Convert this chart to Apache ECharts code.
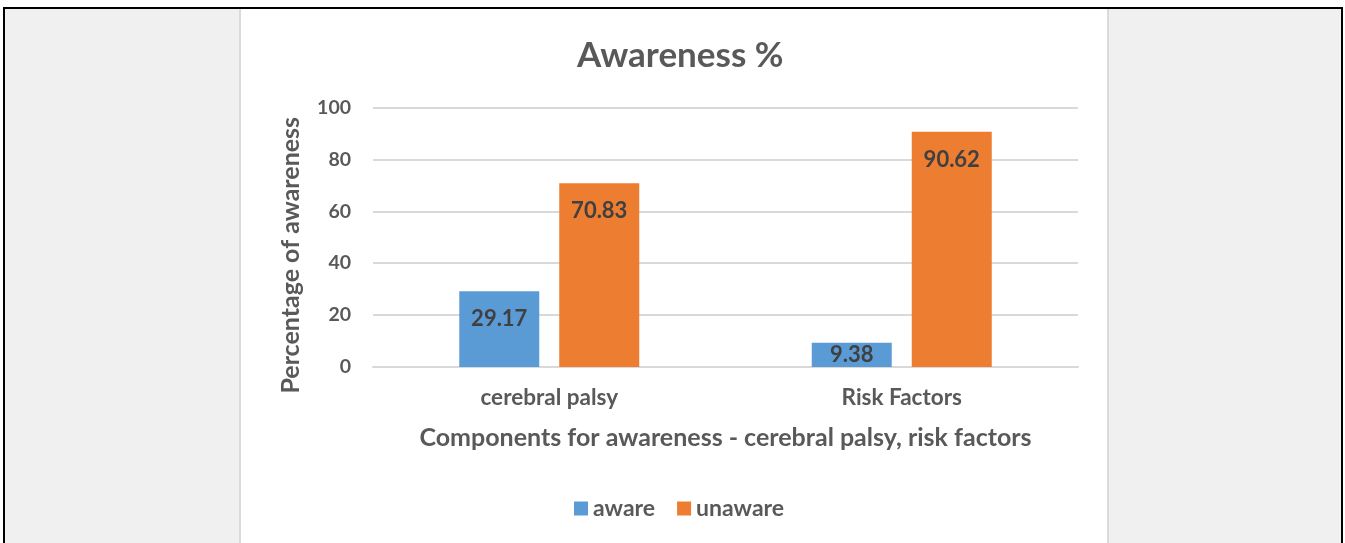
<!DOCTYPE html>
<html>
<head>
<meta charset="utf-8">
<script src="https://cdn.jsdelivr.net/npm/echarts@6/dist/echarts.min.js"></script>
<style>
html, body {
  margin: 0;
  padding: 0;
  width: 1345px;
  height: 543px;
  overflow: hidden;
  background: #ffffff;
}
.frame {
  position: absolute;
  left: 3px;
  top: 7px;
  width: 1336px;
  height: 540px;
  border: 2px solid #000;
  border-bottom: none;
  background: #f0f0f0;
}
.page {
  position: absolute;
  left: 239px;
  top: 9px;
  width: 866px;
  height: 540px;
  background: #fff;
  border-left: 2px solid #dadada;
  border-right: 2px solid #dadada;
}
#chart {
  position: absolute;
  left: 241px;
  top: 10px;
  width: 866px;
  height: 533px;
}
</style>
</head>
<body>
<div class="frame"></div>
<div class="page"></div>
<div id="chart"></div>
<script>
// 数据
const categories = ['cerebral palsy', 'Risk Factors']
const seriesNames = ['aware', 'unaware']
const awareValues = [29.17, 9.38]
const unawareValues = [70.83, 90.62]
const yTicks = [0, 20, 40, 60, 80, 100]

const font = 'Lato, Carlito, "Open Sans", sans-serif'
const textColor = '#595959'

let chart = echarts.init(document.getElementById('chart'))

let labelStyle = {
  show: true,
  position: 'insideTop',
  distance: 17,
  color: '#404040',
  fontFamily: font,
  fontWeight: 'bold',
  fontSize: 22,
  formatter: p => p.value.toFixed(2)
}

// 短柱子的标签往上挪一点，跟原图一样放得下
function toBarData(values) {
  return values.map(v => v < 15 ? { value: v, label: { distance: 1 } } : v)
}

let option = {
  animation: false,
  textStyle: { fontFamily: font },
  title: {
    text: 'Awareness %',
    left: 331,
    top: 23,
    textStyle: {
      color: textColor,
      fontFamily: font,
      fontWeight: 'bold',
      fontSize: 35
    }
  },
  legend: {
    data: seriesNames,
    bottom: 18,
    left: 328,
    itemWidth: 14,
    itemHeight: 14,
    itemGap: 22,
    icon: 'rect',
    textStyle: {
      color: textColor,
      fontFamily: font,
      fontWeight: 'bold',
      fontSize: 23
    }
  },
  grid: {
    left: 132,
    right: 29,
    top: 97.5,
    bottom: 176,
    containLabel: false
  },
  xAxis: {
    type: 'category',
    data: categories,
    name: 'Components for awareness - cerebral palsy, risk factors',
    nameLocation: 'middle',
    nameGap: 58,
    nameTextStyle: {
      color: textColor,
      fontFamily: font,
      fontWeight: 'bold',
      fontSize: 25
    },
    axisLine: { lineStyle: { color: '#d9d9d9', width: 2 } },
    axisTick: { show: false },
    axisLabel: {
      margin: 19,
      color: textColor,
      fontFamily: font,
      fontWeight: 'bold',
      fontSize: 22.5
    }
  },
  yAxis: {
    type: 'value',
    min: 0,
    max: 100,
    interval: 20,
    name: 'Percentage of awareness',
    nameLocation: 'middle',
    nameGap: 70,
    nameTextStyle: {
      color: textColor,
      fontFamily: font,
      fontWeight: 'bold',
      fontSize: 25,
      padding: [0, 36, 0, 0]
    },
    axisLine: { show: false },
    axisTick: { show: false },
    axisLabel: {
      margin: 22,
      color: textColor,
      fontFamily: font,
      fontWeight: 'bold',
      fontSize: 19.5,
      formatter: v => yTicks.includes(v) ? String(v) : ''
    },
    splitLine: { lineStyle: { color: '#d9d9d9', width: 2 } }
  },
  series: [
    {
      name: seriesNames[0],
      type: 'bar',
      data: toBarData(awareValues),
      barWidth: 80,
      barGap: '25%',
      itemStyle: { color: '#5b9bd5' },
      label: labelStyle
    },
    {
      name: seriesNames[1],
      type: 'bar',
      data: toBarData(unawareValues),
      barWidth: 80,
      itemStyle: { color: '#ed7d31' },
      label: labelStyle
    }
  ]
}
chart.setOption(option)
</script>
</body>
</html>
